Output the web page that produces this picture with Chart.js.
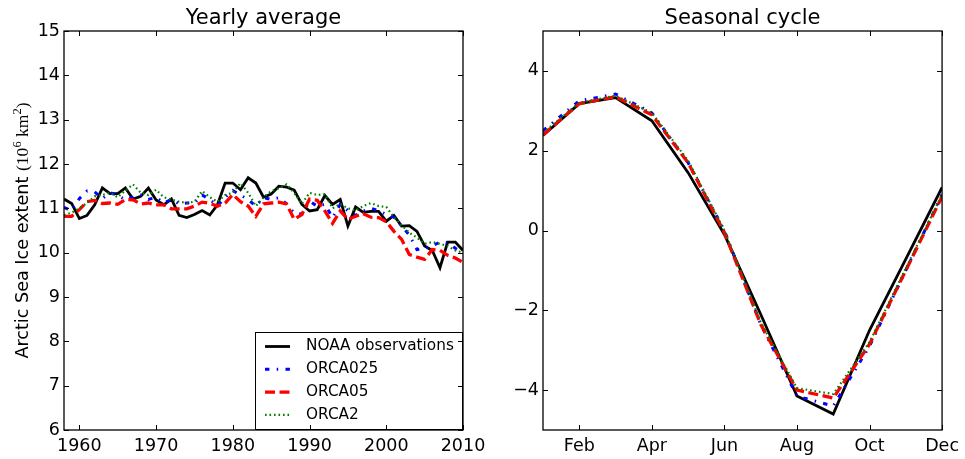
<!DOCTYPE html>
<html>
<head>
<meta charset="utf-8">
<script src="https://cdn.jsdelivr.net/npm/chart.js@4.4.0/dist/chart.umd.min.js"></script>
<style>
  html, body { margin: 0; padding: 0; background: #fff; }
  #wrap { position: relative; width: 965px; height: 459px; overflow: hidden; }
  #yearly { position: absolute; left: 0; top: 0; }
  #seasonal { position: absolute; left: 482px; top: 0; }
</style>
</head>
<body>
<div id="wrap">
  <canvas id="yearly" width="500" height="459"></canvas>
  <canvas id="seasonal" width="483" height="459"></canvas>
</div>
<script>
// yearly mean extent, 10^6 km^2
const years = [1958, 1959, 1960, 1961, 1962, 1963, 1964, 1965, 1966, 1967,
  1968, 1969, 1970, 1971, 1972, 1973, 1974, 1975, 1976, 1977,
  1978, 1979, 1980, 1981, 1982, 1983, 1984, 1985, 1986, 1987,
  1988, 1989, 1990, 1991, 1992, 1993, 1994, 1995, 1996, 1997,
  1998, 1999, 2000, 2001, 2002, 2003, 2004, 2005, 2006, 2007,
  2008, 2009, 2010];
const noaaYearly = [11.21, 11.11, 10.77, 10.84, 11.08, 11.46, 11.33, 11.33, 11.46, 11.21,
  11.27, 11.46, 11.19, 11.08, 11.21, 10.84, 10.79, 10.86, 10.95, 10.85,
  11.08, 11.57, 11.57, 11.42, 11.69, 11.57, 11.25, 11.32, 11.50, 11.48,
  11.41, 11.09, 10.94, 10.97, 11.29, 11.09, 11.20, 10.60, 11.03, 10.91,
  10.93, 10.93, 10.71, 10.84, 10.60, 10.61, 10.48, 10.15, 10.05, 9.66,
  10.24, 10.24, 10.05];
const orca025Yearly = [11.02, 10.95, 11.22, 11.39, 11.37, 11.22, 11.35, 11.30, 11.19, 11.25,
  11.30, 11.20, 11.25, 11.12, 11.20, 11.10, 11.12, 11.12, 11.30, 11.20,
  11.05, 11.25, 11.40, 11.30, 11.20, 11.05, 11.24, 11.20, 11.24, 11.10,
  10.89, 10.87, 11.16, 11.05, 11.09, 10.79, 11.09, 10.95, 10.84, 10.94,
  11.00, 10.95, 10.86, 10.80, 10.60, 10.40, 10.07, 10.10, 10.15, 10.24,
  10.22, 10.10, 10.00];
const orca05Yearly = [10.82, 10.82, 10.97, 11.15, 11.18, 11.11, 11.12, 11.09, 11.20, 11.19,
  11.10, 11.12, 11.08, 11.08, 10.99, 10.99, 10.99, 11.05, 11.14, 11.11,
  11.05, 11.12, 11.31, 11.15, 11.05, 10.82, 11.10, 11.12, 11.14, 11.10,
  10.75, 10.86, 11.21, 11.18, 10.94, 10.66, 10.94, 10.75, 10.82, 10.88,
  10.80, 10.79, 10.70, 10.48, 10.30, 9.96, 9.90, 9.85, 10.07, 10.05,
  9.94, 9.88, 9.78];
const orca2Yearly = [10.85, 10.90, 11.00, 11.12, 11.27, 11.30, 11.35, 11.25, 11.40, 11.54,
  11.35, 11.30, 11.42, 11.25, 11.20, 11.15, 11.12, 11.15, 11.39, 11.25,
  11.15, 11.30, 11.35, 11.57, 11.35, 11.05, 11.25, 11.39, 11.45, 11.54,
  11.35, 11.10, 11.35, 11.30, 11.32, 11.00, 11.10, 11.00, 10.95, 11.05,
  11.12, 11.05, 11.03, 10.80, 10.62, 10.45, 10.34, 10.20, 10.24, 10.20,
  10.15, 10.05, 10.00];

// monthly anomaly from the annual mean
const months = [1, 2, 3, 4, 5, 6, 7, 8, 9, 10, 11, 12];
const noaaSeasonal = [2.38, 3.18, 3.33, 2.75, 1.45, -0.1, -2.1, -4.15, -4.6, -2.5, -0.72, 1.08];
const orca025Seasonal = [2.5, 3.25, 3.42, 2.95, 1.7, 0.0, -2.35, -4.15, -4.4, -2.9, -1.0, 0.9];
const orca05Seasonal = [2.4, 3.18, 3.35, 2.9, 1.7, -0.05, -2.35, -4.0, -4.2, -2.85, -1.0, 0.85];
const orca2Seasonal = [2.45, 3.2, 3.38, 2.95, 1.75, 0.0, -2.3, -3.95, -4.1, -2.8, -0.95, 0.9];

const yearTicks = [1960, 1970, 1980, 1990, 2000, 2010];
const extentTicks = [6, 7, 8, 9, 10, 11, 12, 13, 14, 15];
const monthTicks = [2, 4, 6, 8, 10, 12];
const monthTickLabels = ['Feb', 'Apr', 'Jun', 'Aug', 'Oct', 'Dec'];
const anomalyTicks = [-4, -2, 0, 2, 4];

const seriesNames = ['NOAA observations', 'ORCA025', 'ORCA05', 'ORCA2'];

Chart.defaults.font.family = 'DejaVu Sans';
Chart.defaults.color = '#000';

const styles = [
  { borderColor: '#000000', borderWidth: 2.8, borderDash: [], order: 4 },
  { borderColor: '#0000ff', borderWidth: 3, borderDash: [4.4, 7.3, 1.5, 7.3], order: 3 },
  { borderColor: '#ff0000', borderWidth: 3.3, borderDash: [10, 4.5], order: 2 },
  { borderColor: '#008000', borderWidth: 2.2, borderDash: [1.6, 2.9], order: 1 }
];

function makeSets(xs, lists) {
  return lists.map((vals, i) => Object.assign({
    label: seriesNames[i],
    data: vals.map((v, j) => ({ x: xs[j], y: v })),
    pointRadius: 0,
    tension: 0,
    fill: false,
    borderCapStyle: 'butt',
    borderJoinStyle: 'miter'
  }, styles[i]));
}

// frame, inward ticks on all sides, title, legend and y label
const decor = {
  id: 'decor',
  afterDatasetsDraw(chart, args, opts) {
    const ctx = chart.ctx;
    const a = chart.chartArea;
    const xs = chart.scales.x, ys = chart.scales.y;
    ctx.save();

    if (opts.legend) {
      const bx = 255, by = 332, bw = a.right - 255, bh = a.bottom - 332;
      ctx.fillStyle = '#fff';
      ctx.fillRect(bx, by, bw, bh);
      ctx.strokeStyle = '#000';
      ctx.lineWidth = 1;
      ctx.strokeRect(bx + 0.5, by + 0.5, bw - 1, bh - 1);
      ctx.font = '15.3px "DejaVu Sans"';
      ctx.textBaseline = 'middle';
      ctx.textAlign = 'left';
      chart.data.datasets.forEach((ds, i) => {
        const ry = 346.5 + i * 22.8;
        ctx.beginPath();
        ctx.strokeStyle = ds.borderColor;
        ctx.lineWidth = ds.borderWidth;
        ctx.setLineDash(ds.borderDash);
        ctx.lineCap = 'butt';
        ctx.moveTo(265, ry);
        ctx.lineTo(290, ry);
        ctx.stroke();
        ctx.setLineDash([]);
        ctx.fillStyle = '#000';
        ctx.fillText(ds.label, 306, ry);
      });
    }

    ctx.strokeStyle = '#000';
    ctx.lineWidth = 1;
    ctx.beginPath();
    xs.ticks.forEach(t => {
      const px = Math.round(xs.getPixelForValue(t.value)) + 0.5;
      ctx.moveTo(px, a.bottom); ctx.lineTo(px, a.bottom - 5);
      ctx.moveTo(px, a.top); ctx.lineTo(px, a.top + 5);
    });
    ys.ticks.forEach(t => {
      const py = Math.round(ys.getPixelForValue(t.value)) + 0.5;
      ctx.moveTo(a.left, py); ctx.lineTo(a.left + 5, py);
      ctx.moveTo(a.right, py); ctx.lineTo(a.right - 5, py);
    });
    ctx.stroke();

    ctx.lineWidth = 1.3;
    ctx.strokeRect(a.left, a.top, a.right - a.left, a.bottom - a.top);

    ctx.fillStyle = '#000';
    ctx.font = '21px "DejaVu Sans"';
    ctx.textAlign = 'center';
    ctx.textBaseline = 'alphabetic';
    ctx.fillText(opts.title, (a.left + a.right) / 2, 24);

    if (opts.ylabel) {
      const sans = '17.6px "DejaVu Sans"';
      const serif = '17.6px "Liberation Serif"';
      const small = '12.5px "Liberation Serif"';
      const parts = [
        [sans, 'Arctic Sea Ice extent ', 0],
        [serif, '(10', 0],
        [small, '6', 7],
        [serif, ' km', 0],
        [small, '2', 7],
        [serif, ')', 0]
      ];
      let total = 0;
      parts.forEach(p => { ctx.font = p[0]; total += ctx.measureText(p[1]).width; });
      ctx.translate(28, (a.top + a.bottom) / 2);
      ctx.rotate(-Math.PI / 2);
      ctx.textAlign = 'left';
      let tx = -total / 2;
      parts.forEach(p => {
        ctx.font = p[0];
        ctx.fillText(p[1], tx, -p[2]);
        tx += ctx.measureText(p[1]).width;
      });
    }
    ctx.restore();
  }
};

function axisX(min, max, tickVals, fmt, height) {
  return {
    type: 'linear', min: min, max: max,
    grid: { display: false, drawTicks: false },
    border: { display: false },
    afterBuildTicks: s => { s.ticks = tickVals.map(v => ({ value: v })); },
    afterFit: s => { s.height = height; },
    ticks: { font: { size: 17.5 }, color: '#000', padding: 6, maxRotation: 0, autoSkip: false, callback: fmt }
  };
}

function axisY(min, max, tickVals, width) {
  return {
    type: 'linear', min: min, max: max,
    grid: { display: false, drawTicks: false },
    border: { display: false },
    afterBuildTicks: s => { s.ticks = tickVals.map(v => ({ value: v })); },
    afterFit: s => { s.width = width; },
    ticks: {
      font: { size: 17.5 }, color: '#000', padding: 4, autoSkip: false,
      callback: v => String(v).replace('-', '\u2212')
    }
  };
}

const yearly = new Chart(document.getElementById('yearly'), {
  type: 'line',
  data: { datasets: makeSets(years, [noaaYearly, orca025Yearly, orca05Yearly, orca2Yearly]) },
  options: {
    responsive: false,
    animation: false,
    layout: { padding: { left: 0, top: 31, right: 37, bottom: 0 } },
    plugins: {
      legend: { display: false },
      tooltip: { enabled: false },
      decor: { title: 'Yearly average', legend: true, ylabel: true }
    },
    scales: {
      x: axisX(1958, 2010, yearTicks, v => String(v), 29),
      y: axisY(6, 15, extentTicks, 64)
    }
  },
  plugins: [decor]
});

const seasonal = new Chart(document.getElementById('seasonal'), {
  type: 'line',
  data: { datasets: makeSets(months, [noaaSeasonal, orca025Seasonal, orca05Seasonal, orca2Seasonal]) },
  options: {
    responsive: false,
    animation: false,
    layout: { padding: { left: 0, top: 31, right: 22, bottom: 0 } },
    plugins: {
      legend: { display: false },
      tooltip: { enabled: false },
      decor: { title: 'Seasonal cycle', legend: false, ylabel: false }
    },
    scales: {
      x: axisX(1, 12, monthTicks, v => monthTickLabels[monthTicks.indexOf(v)], 29),
      y: axisY(-5, 5, anomalyTicks, 61)
    }
  },
  plugins: [decor]
});
</script>
</body>
</html>
